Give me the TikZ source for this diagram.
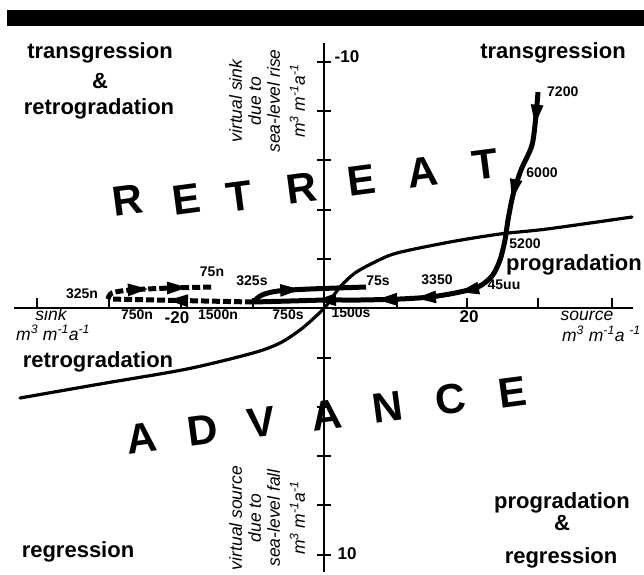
\documentclass[tikz,border=0pt]{standalone}
\usepackage{fontspec}
\setmainfont{Liberation Sans}
\usetikzlibrary{arrows.meta,decorations.markings}
\tikzset{
 quad/.style={font=\fontsize{22}{26}\selectfont\bfseries, anchor=base, inner sep=0pt},
 num/.style={font=\fontsize{14}{16}\selectfont\bfseries, inner sep=0pt},
 bignum/.style={font=\fontsize{17}{20}\selectfont\bfseries, inner sep=0pt},
 unit/.style={font=\fontsize{17.5}{19}\selectfont\itshape, inner sep=0pt},
 letter/.style={font=\fontsize{42}{46}\selectfont\bfseries, rotate=7.5, inner sep=0pt},
 axisline/.style={line width=1.6pt},
 scurve/.style={line width=3.2pt, line cap=round},
 traj/.style={line width=5pt},
 dtraj/.style={line width=5pt, dash pattern=on 8pt off 3pt},
}
\newcommand{\unitstr}{m\textsuperscript{3} m\textsuperscript{-1}a\textsuperscript{-1}}
\newcommand{\tri}{\arrow{Triangle[length=22pt,width=11pt]}}
\begin{document}
\begin{tikzpicture}[x=1pt,y=-1pt]
\useasboundingbox (0,0) rectangle (644,574);
% top bar
\fill (7,10) rectangle (644,26);
% axes
\draw[axisline] (14,308) -- (633,308);
\draw[axisline] (324,43) -- (324,572);
\foreach \yy in {62,111,160,210,259,358,407,456,505,555}
  \draw[axisline] (317,\yy) -- (331,\yy);
\foreach \xx in {37,109,181,253,397,467,538,612}
  \draw[axisline] (\xx,308) -- (\xx,298);
% S curve
\draw[scurve] plot[smooth] coordinates {(20,398) (100,384) (187,369) (253,353) (280,343) (300,330) (314,318) (326,306) (340,287) (355,273) (375,262) (397,253) (450,242) (500,234) (547,229) (632,217)};
% main trajectory
\draw[traj, postaction={decorate, decoration={markings,
   mark=at position 0.08 with {\tri},
   mark=at position 0.26 with {\tri},
   mark=at position 0.53 with {\tri},
   mark=at position 0.63 with {\tri},
   mark=at position 0.72 with {\tri},
   mark=at position 0.86 with {\tri}}}]
  plot[smooth] coordinates {(538,92) (536,115) (532,145) (521,170) (513,195) (508,220) (505,240) (500,260) (492,276) (478,287) (455,293) (430,297) (400,299) (360,300) (327,300) (290,301) (253,302)};
% 75s branch
\draw[traj, postaction={decorate, decoration={markings,
   mark=at position 0.45 with {\tri}}}]
  plot[smooth] coordinates {(253,302) (262,295) (278,291) (310,289) (366,287)};
% dashed n branch
\draw[dtraj, postaction={decorate, solid, decoration={markings,
   mark=at position 0.6 with {\tri}}}]
  (253,302) -- (108,299);
\draw[dtraj, postaction={decorate, solid, decoration={markings,
   mark=at position 0.42 with {\tri},
   mark=at position 0.78 with {\tri}}}]
  plot[smooth] coordinates {(108,299) (112,293) (130,290) (170,288) (213,287)};
% trajectory labels
\node[num, anchor=west] (l7200) at (547,92) {7200};
\node[num] (l6000) at (542,173) {6000};
\node[num] (l5200) at (525,244) {5200};
\node[num] (l3350) at (437,280) {3350};
\node[num] (l4500) at (504,285) {45uu};
\node[num] (l75s) at (378,281) {75s};
\node[num] (l325s) at (252,281) {325s};
\node[num] (l75n) at (212,272) {75n};
\node[num] (l325n) at (82,294) {325n};
\node[num] (l750n) at (137,315) {750n};
\node[num] (l1500n) at (218,315) {1500n};
\node[num] (l750s) at (288,315) {750s};
\node[num] (l1500s) at (351,313) {1500s};
% axis numbers
\node[bignum] (m20) at (177,318) {-20};
\node[bignum] (p20) at (469,317) {20};
\node[bignum] (m10) at (347,57) {-10};
\node[bignum] (p10) at (347,554) {10};
% axis unit labels
\node[unit, anchor=base] (sink) at (51,320) {sink};
\node[unit, anchor=base west] (sinku) at (16,340) {\unitstr};
\node[unit, anchor=base] (source) at (587,320) {source};
\node[unit, anchor=base east] (sourceu) at (641,341) {m\textsuperscript{3} m\textsuperscript{-1}a \textsuperscript{-1}};
\node[unit, rotate=90, align=center] (vsink) at (267,101) {virtual sink\\due to\\sea-level rise\\[6pt]\unitstr};
\node[unit, rotate=90, align=center] (vsource) at (267,518) {virtual source\\due to\\sea-level fall\\[6pt]\unitstr};
% quadrant labels
\node[quad] (tl1) at (100,58) {transgression};
\node[quad] (tl2) at (100,88) {\&};
\node[quad] (tl3) at (99,114) {retrogradation};
\node[quad] (tr1) at (553,58) {transgression};
\node[quad] (rmid) at (574,270) {progradation};
\node[quad] (lmid) at (98,367) {retrogradation};
\node[quad] (bl) at (78,557) {regression};
\node[quad] (br1) at (562,508) {progradation};
\node[quad] (br2) at (562,530) {\&};
\node[quad] (br3) at (561,563) {regression};
% big words
\node[letter] (r1) at (128,200) {R};
\node[letter] (r2) at (186,199) {E};
\node[letter] (r3) at (239,196) {T};
\node[letter] (r4) at (302,188) {R};
\node[letter] (r5) at (361,180) {E};
\node[letter] (r6) at (423,172) {A};
\node[letter] (r7) at (485,164) {T};
\node[letter] (a1) at (142,438) {A};
\node[letter] (a2) at (203,430) {D};
\node[letter] (a3) at (261,422) {V};
\node[letter] (a4) at (327,415) {A};
\node[letter] (a5) at (388,407) {N};
\node[letter] (a6) at (451,399) {C};
\node[letter] (a7) at (512,392) {E};
\end{tikzpicture}
\end{document}
